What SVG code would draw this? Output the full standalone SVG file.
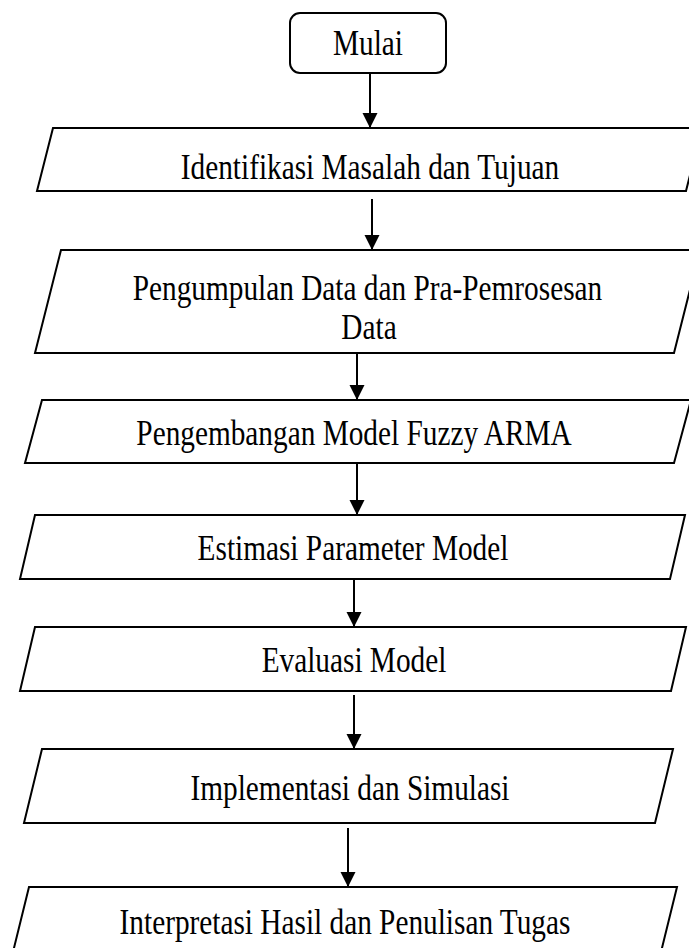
<svg xmlns="http://www.w3.org/2000/svg" width="689" height="948" viewBox="0 0 689 948">
  <style>
    .shape { fill: #ffffff; stroke: #000000; stroke-width: 2; stroke-linejoin: miter; }
    .label { font-family: "Liberation Serif", "Times New Roman", serif; font-size: 29.3px; fill: #000000; text-anchor: middle; }
    .conn { stroke: #000000; stroke-width: 2; fill: none; }
  </style>
  <defs>
    <marker id="arrow" markerUnits="userSpaceOnUse" markerWidth="16" markerHeight="16" refX="15" refY="7.5" orient="auto">
      <path d="M0,0 L15,7.5 L0,15 Z" fill="#000000"/>
    </marker>
  </defs>
  <rect width="689" height="948" fill="#ffffff"/>

  <g id="mulai">
    <rect class="shape" x="290" y="13" width="156" height="60" rx="10" ry="10"/>
    <text class="label" transform="translate(368,55) scale(1,1.2)">Mulai</text>
  </g>

  <g id="identifikasi">
    <polygon class="shape" points="53,128 702,128 686,191 37,191"/>
    <text class="label" transform="translate(370,179) scale(1,1.2)">Identifikasi Masalah dan Tujuan</text>
  </g>

  <g id="pengumpulan">
    <polygon class="shape" points="61,250 700,250 674,353 35,353"/>
    <text class="label" transform="translate(367.5,300) scale(1,1.2)">Pengumpulan Data dan Pra-Pemrosesan</text>
    <text class="label" transform="translate(369,339) scale(1,1.2)">Data</text>
  </g>

  <g id="pengembangan">
    <polygon class="shape" points="42,400 691,400 674,463 25,463"/>
    <text class="label" transform="translate(354,445) scale(1,1.2)">Pengembangan Model Fuzzy ARMA</text>
  </g>

  <g id="estimasi">
    <polygon class="shape" points="35,515 685,515 670,579 20,579"/>
    <text class="label" transform="translate(353,560) scale(1,1.2)">Estimasi Parameter Model</text>
  </g>

  <g id="evaluasi">
    <polygon class="shape" points="35,627 686,627 671,691 20,691"/>
    <text class="label" transform="translate(354,672) scale(1,1.2)">Evaluasi Model</text>
  </g>

  <g id="implementasi">
    <polygon class="shape" points="42,749 673,749 655,823 24,823"/>
    <text class="label" transform="translate(350,800) scale(1,1.2)">Implementasi dan Simulasi</text>
  </g>

  <g id="interpretasi">
    <polygon class="shape" points="29,887 677,887 661,952 13,952"/>
    <text class="label" transform="translate(345,934) scale(1,1.2)">Interpretasi Hasil dan Penulisan Tugas</text>
  </g>

  <g id="connectors">
    <line class="conn" x1="370" y1="73" x2="370" y2="128" marker-end="url(#arrow)"/>
    <line class="conn" x1="372" y1="199" x2="372" y2="250" marker-end="url(#arrow)"/>
    <line class="conn" x1="357" y1="353" x2="357" y2="400" marker-end="url(#arrow)"/>
    <line class="conn" x1="357" y1="463" x2="357" y2="515" marker-end="url(#arrow)"/>
    <line class="conn" x1="354" y1="579" x2="354" y2="627" marker-end="url(#arrow)"/>
    <line class="conn" x1="354" y1="695" x2="354" y2="749" marker-end="url(#arrow)"/>
    <line class="conn" x1="348" y1="828" x2="348" y2="887" marker-end="url(#arrow)"/>
  </g>
</svg>
